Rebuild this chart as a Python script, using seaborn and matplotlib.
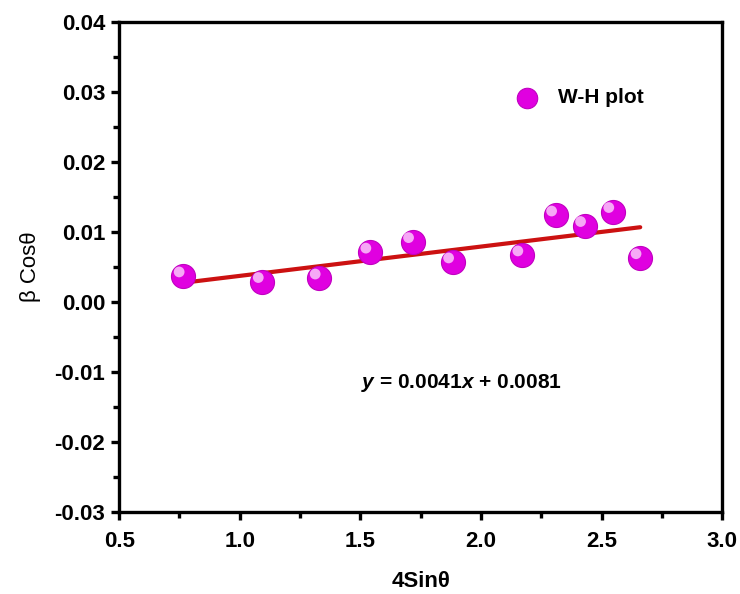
import matplotlib
matplotlib.use("Agg")
import matplotlib.pyplot as plt
import matplotlib.transforms as mtransforms
import numpy as np
import pandas as pd
import seaborn as sns

sin_theta4 = [0.766, 1.094, 1.330, 1.540, 1.717, 1.883, 2.170, 2.310, 2.430, 2.547, 2.660]
beta_cos = [0.0037, 0.0029, 0.0034, 0.0071, 0.0086, 0.0057, 0.0067, 0.0124, 0.0109, 0.0129, 0.0063]
equation = r"$\it{y}$ = 0.0041$\it{x}$ + 0.0081"
series_label = "W-H plot"

df = pd.DataFrame({"4Sin": sin_theta4, "bCos": beta_cos})

sns.set_style("ticks")
plt.rcParams['font.family'] = ['Liberation Sans', 'DejaVu Sans']
plt.rcParams['text.color'] = 'black'
plt.rcParams['axes.labelcolor'] = 'black'
plt.rcParams['xtick.color'] = 'black'
plt.rcParams['ytick.color'] = 'black'
plt.rcParams['mathtext.fontset'] = 'custom'
plt.rcParams['mathtext.rm'] = 'Liberation Sans:bold'
plt.rcParams['mathtext.it'] = 'Liberation Sans:bold:italic'
plt.rcParams['mathtext.bf'] = 'Liberation Sans:bold'

fig = plt.figure(figsize=(7.4, 5.94), dpi=100)
ax = fig.add_axes([0.161, 0.138, 0.815, 0.825])

# linear fit line
sns.regplot(data=df, x="4Sin", y="bCos", ci=None, scatter=False, ax=ax,
            line_kws={"color": "#cc1111", "lw": 3, "zorder": 2})

# spheres: base + highlight
sns.scatterplot(data=df, x="4Sin", y="bCos", ax=ax, s=300, color="#e000e0",
                edgecolor="#c000c0", linewidth=0.8, zorder=3, label=series_label)
hl = mtransforms.offset_copy(ax.transData, fig=fig, x=-3, y=3, units='points')
ax.scatter(df["4Sin"], df["bCos"], s=60, color="#f6a8f6", edgecolors="none",
           zorder=4, transform=hl)

ax.set_xlim(0.5, 3.0)
ax.set_ylim(-0.03, 0.04)
ax.set_xticks(np.arange(0.5, 3.01, 0.5))
ax.set_yticks(np.arange(-0.03, 0.0401, 0.01))
ax.set_xticks(np.arange(0.75, 3.0, 0.5), minor=True)
ax.set_yticks(np.arange(-0.025, 0.04, 0.01), minor=True)
ax.set_xticklabels([f"{v:.1f}" for v in np.arange(0.5, 3.01, 0.5)])
ax.set_yticklabels([f"{v:.2f}" if abs(v) > 1e-9 else "0.00" for v in np.arange(-0.03, 0.0401, 0.01)])

for sp in ax.spines.values():
    sp.set_linewidth(2.4)
    sp.set_color("black")
ax.tick_params(which="major", direction="out", length=6, width=2.4, labelsize=16)
ax.tick_params(axis="x", which="major", pad=8)
ax.tick_params(axis="y", which="major", pad=4)
ax.tick_params(which="minor", direction="out", length=4, width=2.4)
for lab in ax.get_xticklabels() + ax.get_yticklabels():
    lab.set_fontweight("bold")

ax.set_xlabel("4Sin\u03b8", fontsize=16, fontweight="bold", labelpad=13)
ax.set_ylabel("\u03b2 Cos\u03b8", fontsize=16, labelpad=10)

ax.text(1.92, -0.0116, equation, fontsize=15, fontweight="bold", ha="center", va="center")

leg = ax.legend(loc="center left", bbox_to_anchor=(0.61, 0.845), frameon=False,
                prop={"weight": "bold", "size": 15}, handletextpad=0.5, markerscale=0.85)

fig.savefig("out.png", dpi=100)
